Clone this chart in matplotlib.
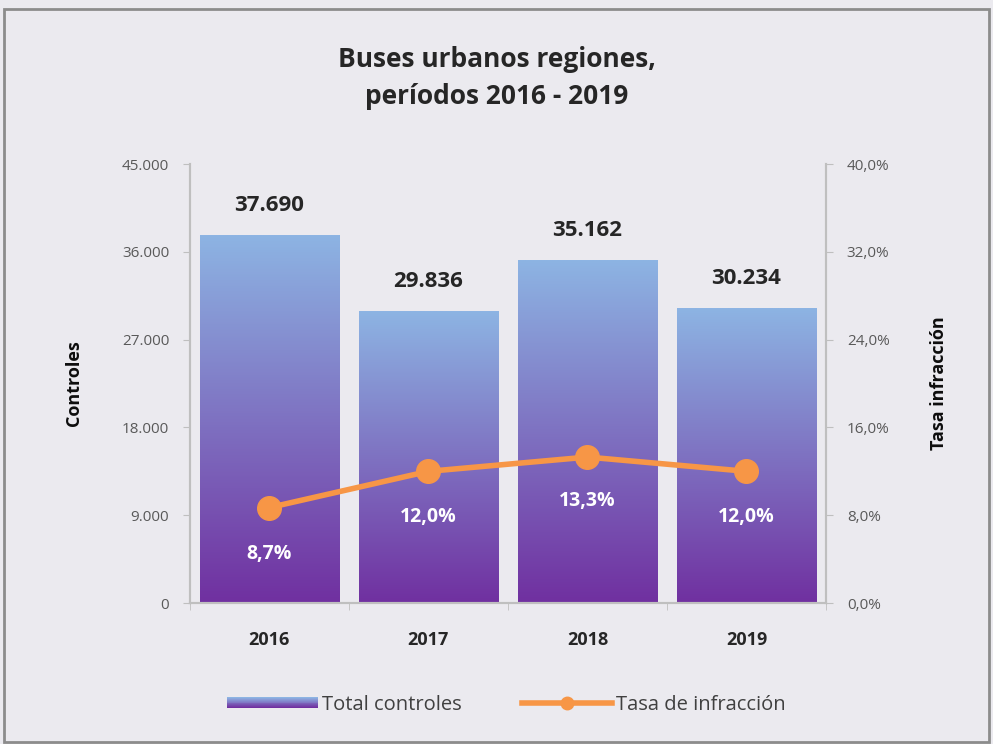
import numpy as np
import matplotlib.pyplot as plt
import matplotlib.colors as mcolors
from matplotlib.patches import Rectangle
from matplotlib.lines import Line2D
from matplotlib.legend_handler import HandlerBase
from matplotlib.ticker import FuncFormatter, FixedLocator

# data
years = ["2016", "2017", "2018", "2019"]
controles = [37690, 29836, 35162, 30234]
tasa = [8.7, 12.0, 13.3, 12.0]

# colours
bg = "#ebeaef"
top_col = "#8db4e3"
bot_col = "#7030a0"
orange = "#f79646"
grad_cmap = mcolors.LinearSegmentedColormap.from_list("g", [bot_col, top_col])

plt.rcParams["font.family"] = ["Open Sans", "DejaVu Sans"]

fig = plt.figure(figsize=(9.93, 7.44), dpi=100, facecolor=bg)
ax = fig.add_axes([0.1913, 0.1895, 0.6405, 0.590])
ax.set_facecolor(bg)
ax2 = ax.twinx()

x = np.arange(len(years))
bw = 0.88
bars = ax.bar(x, controles, width=bw, color="none", edgecolor="none", zorder=2)

# gradient fill per bar
grad = np.linspace(0, 1, 256).reshape(-1, 1)
for b in bars:
    x0, y0 = b.get_x(), b.get_y()
    w, h = b.get_width(), b.get_height()
    ax.imshow(grad, cmap=grad_cmap, origin="lower", aspect="auto",
              extent=[x0, x0 + w, y0, y0 + h], zorder=2)

ax.set_xlim(-0.5, len(years) - 0.5)
ax.set_ylim(0, 45000)
ax.yaxis.set_major_locator(FixedLocator([0, 9000, 18000, 27000, 36000, 45000]))
ax.yaxis.set_major_formatter(FuncFormatter(lambda v, p: f"{int(v):,}".replace(",", ".")))
ax.set_xticks(x)
ax.set_xticklabels(years, fontsize=13, fontweight="bold", color="#262626")
ax.set_xticks(np.arange(-0.5, len(years)), minor=True)
ax.tick_params(axis="x", which="major", length=0, pad=20)
ax.tick_params(axis="x", which="minor", length=5, color="#bfbfbf", direction="out")
ax.tick_params(axis="y", labelsize=11, colors="#595959", length=5, color="#bfbfbf", pad=10)

for v, xi in zip(controles, x):
    ax.text(xi, v + 2000, f"{v:,}".replace(",", "."), ha="center", va="bottom",
            fontsize=16, fontweight="bold", color="#262626")

# line
ax2.plot(x, tasa, color=orange, lw=4, marker="o", markersize=17, zorder=5)
ax2.set_ylim(0, 40)
ax2.yaxis.set_major_locator(FixedLocator([0, 8, 16, 24, 32, 40]))
ax2.yaxis.set_major_formatter(FuncFormatter(lambda v, p: f"{v:.1f}%".replace(".", ",")))
ax2.tick_params(axis="y", labelsize=11, colors="#595959", length=5, color="#bfbfbf", pad=10)

offsets = [4.2, 4.2, 4.0, 4.2]
for xi, t, o in zip(x, tasa, offsets):
    ax2.text(xi, t - o, f"{t:.1f}%".replace(".", ","), ha="center", va="center",
             fontsize=14, color="white", fontweight="bold", zorder=6)

for a in (ax, ax2):
    a.spines["top"].set_visible(False)
    for s in ("left", "right", "bottom"):
        a.spines[s].set_color("#bfbfbf")
        a.spines[s].set_linewidth(1.5)

ax.set_ylabel("Controles", fontsize=13, fontweight="bold", color="#0d0d0d", labelpad=28)
ax2.set_ylabel("Tasa infracción", fontsize=13, fontweight="bold", color="#0d0d0d",
               rotation=90, labelpad=29)

fig.text(0.5, 0.895, "Buses urbanos regiones,\nperíodos 2016 - 2019", ha="center", va="center",
         fontsize=19, fontweight="bold", color="#262626", linespacing=1.5)


# legend with gradient patch
class GradHandler(HandlerBase):
    def create_artists(self, legend, orig, xd, yd, w, h, fontsize, trans):
        arts = []
        n = 12
        hh = h * 0.75
        y0 = yd + (h - hh) / 2
        for i in range(n):
            c = grad_cmap(1 - i / (n - 1))
            r = Rectangle((xd, y0 + hh - (i + 1) * hh / n), w, hh / n, facecolor=c,
                          edgecolor="none", transform=trans)
            arts.append(r)
        return arts


bar_handle = Rectangle((0, 0), 1, 1)
line_handle = Line2D([], [], color=orange, lw=4, marker="o", markersize=9)
fig.legend([bar_handle, line_handle], ["Total controles", "Tasa de infracción"],
           handler_map={bar_handle: GradHandler()},
           loc="center", bbox_to_anchor=(0.51, 0.053), ncol=2, frameon=False,
           fontsize=14.5, labelcolor="#404040", handlelength=4.5, handletextpad=0.2,
           columnspacing=3.0)

# outer border
fig.patches.append(Rectangle((0.004, 0.003), 0.992, 0.985, transform=fig.transFigure,
                             fill=False, edgecolor="#8c8c8c", lw=2))

fig.savefig("out.png", dpi=100, facecolor=bg)
